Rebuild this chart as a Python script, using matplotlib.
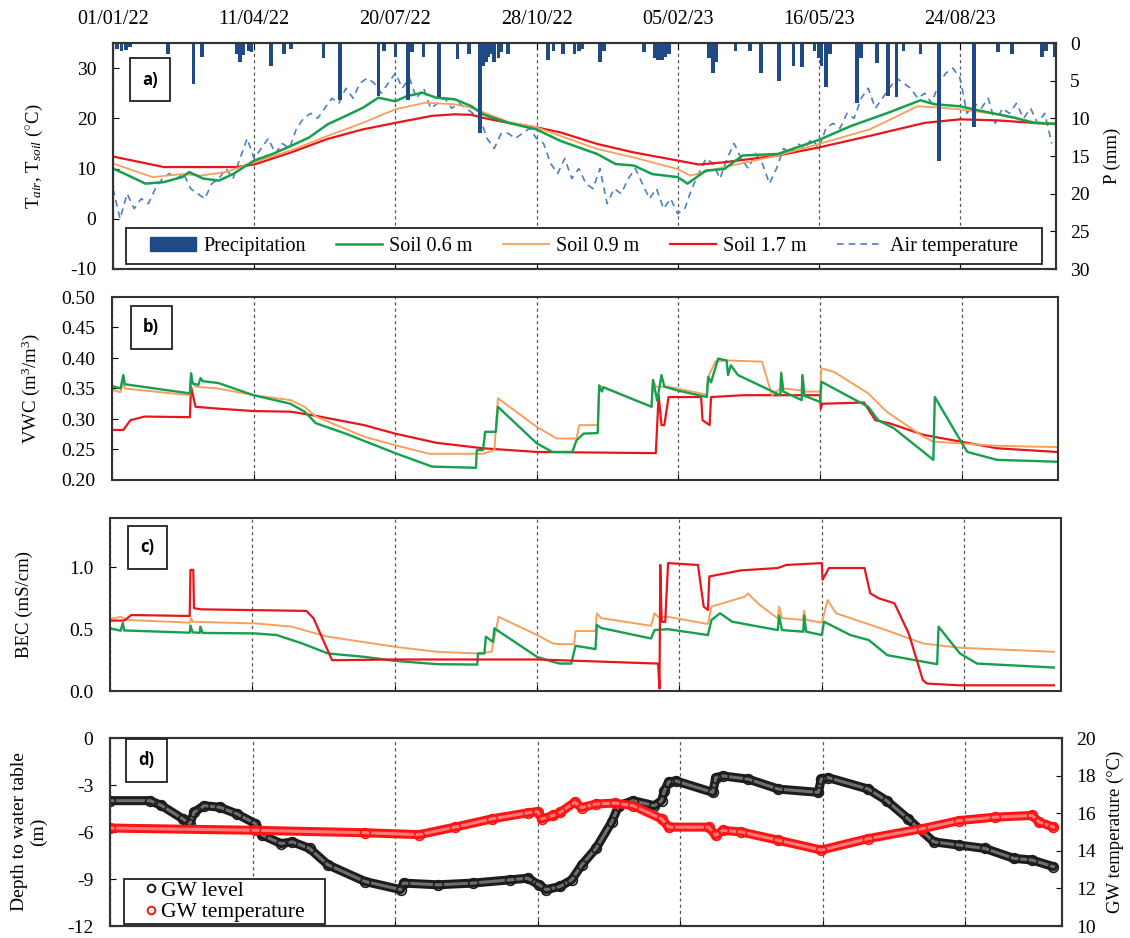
import numpy as np
import pandas as pd
import matplotlib
matplotlib.use('Agg')
import matplotlib.pyplot as plt
import matplotlib.transforms as mtransforms
from matplotlib.lines import Line2D
from matplotlib.patches import Patch, Rectangle

plt.rcParams['font.family'] = 'Liberation Serif'
plt.rcParams['mathtext.fontset'] = 'custom'
plt.rcParams['mathtext.rm'] = 'Liberation Serif'
plt.rcParams['mathtext.it'] = 'Liberation Serif:italic'
plt.rcParams['axes.unicode_minus'] = False

# dias contados a partir de 01/01/2022
start = pd.Timestamp('2022-01-01')
end_day = 668
red_line_day = 305
tick_days = [0, 100, 200, 300, 400, 500, 600]

# ---- a) temperatura do solo e do ar, precipitacao
t06_days = [0, 8, 23, 36, 49, 54, 64, 75, 85, 100, 113, 126, 139, 152, 165, 177, 188, 200, 208, 219,
            229, 242, 254, 262, 280, 300, 317, 330, 343, 356, 369, 382, 400, 407, 420, 433, 446, 471,
            500, 523, 549, 572, 582, 600, 613, 639, 652, 667]
t06 = [10.0, 9.0, 7.0, 7.3, 8.3, 9.3, 8.0, 7.6, 8.9, 11.6, 12.9, 14.5, 16.2, 18.8, 20.5, 22.1, 24.1,
       23.4, 24.4, 25.1, 24.1, 23.8, 22.4, 20.8, 19.1, 17.8, 15.5, 14.2, 12.9, 10.9, 10.6, 8.9, 8.3,
       7.0, 9.6, 9.9, 12.6, 12.9, 15.7, 18.5, 21.1, 23.6, 22.8, 22.4, 21.6, 20.1, 19.1, 18.9]
t09_days = [0, 28, 49, 62, 80, 100, 126, 152, 177, 200, 221, 242, 254, 280, 300, 317, 343, 369, 400,
            409, 433, 471, 500, 536, 570, 582, 600, 626, 652, 667]
t09 = [11.0, 8.3, 8.9, 8.6, 9.3, 11.25, 13.6, 16.5, 19.1, 21.8, 23.1, 22.8, 22.1, 19.3, 18.2, 16.5,
       13.9, 12.2, 9.9, 8.6, 10.3, 12.6, 14.9, 17.8, 22.4, 22.2, 21.8, 20.8, 19.3, 18.9]
t17_days = [0, 36, 87, 100, 126, 152, 177, 200, 226, 242, 254, 262, 280, 300, 317, 343, 369, 400,
            415, 433, 471, 500, 536, 575, 600, 626, 652, 667]
t17 = [12.4, 10.3, 10.3, 10.8, 13.2, 15.9, 17.8, 19.1, 20.5, 20.8, 20.7, 20.1, 19.1, 18.2, 17.2, 14.9,
       13.2, 11.6, 10.8, 11.25, 12.6, 14.2, 16.5, 19.1, 19.8, 19.6, 19.1, 18.9]
# temperatura do ar a cada 5 dias
t_air = [6, 0, 5, 2, 4, 3, 6, 8, 9, 8, 9, 6, 5, 4, 7, 8, 10, 8, 12, 16,
         12, 14, 16, 13, 15, 14, 18, 20, 21, 20, 22, 24, 23, 26, 24, 27, 28, 27, 25, 27,
         29, 26, 28, 24, 26, 22, 23, 24, 22, 23, 22, 21, 20, 16, 14, 17, 17, 16, 17, 18,
         16, 15, 11, 9, 12, 8, 10, 7, 6, 10, 3, 6, 5, 8, 10, 7, 4, 6, 2, 4,
         1, 2, 6, 9, 12, 11, 8, 12, 15, 12, 10, 13, 11, 7, 10, 14, 13, 15, 14, 16,
         14, 18, 19, 18, 21, 20, 24, 26, 22, 24, 26, 28, 27, 26, 24, 25, 23, 27, 29, 30,
         28, 21, 23, 22, 24, 19, 22, 21, 23, 20, 22, 19, 21, 15]
rain_days = [3, 6, 9, 12, 39, 57, 63, 88, 90, 92, 96, 98, 112, 121, 126, 149, 161, 188, 192, 200,
             209, 212, 220, 231, 244, 252, 260, 262, 264, 266, 268, 270, 273, 275, 280, 308, 312,
             319, 327, 330, 332, 345, 348, 376, 384, 386, 389, 391, 394, 422, 425, 427, 441, 451,
             459, 472, 482, 488, 497, 500, 502, 505, 508, 527, 530, 541, 549, 555, 560, 572, 585,
             610, 627, 637, 658, 661, 667]
rain_mm = [0.8, 1.0, 0.9, 0.5, 1.4, 5.4, 1.9, 1.5, 2.5, 1.6, 1.0, 1.2, 3.0, 1.4, 0.8, 2.0, 7.6, 7.0,
           1.0, 1.8, 7.6, 1.2, 1.8, 7.2, 2.1, 1.4, 12.0, 3.0, 2.5, 1.8, 1.5, 2.5, 2.0, 1.2, 1.4, 2.3,
           1.0, 1.4, 1.4, 1.0, 0.8, 2.5, 1.0, 1.2, 2.0, 2.3, 2.2, 1.8, 1.5, 2.0, 4.0, 2.5, 1.0, 1.0,
           4.0, 5.0, 3.0, 3.2, 1.0, 2.0, 3.0, 5.8, 1.5, 8.0, 2.0, 2.7, 7.0, 7.2, 1.0, 1.4, 15.6,
           11.2, 1.2, 1.4, 1.8, 1.0, 1.8]

# ---- b) VWC
vwc06_days = [0, 6, 8, 9, 55, 55.8, 57, 61, 62.5, 64, 75, 100, 126, 136, 144, 165, 200, 226, 257,
              257.6, 262, 263.5, 271, 272.5, 300, 311, 325, 328, 333, 343, 344, 346, 347, 381, 382,
              385, 388, 390, 399, 420, 421, 423, 428, 434, 435, 437, 442, 472, 472.5, 474, 487,
              487.5, 489, 500, 501, 521, 534, 541, 552, 580, 581, 599, 604, 625, 667]
vwc06 = [0.354, 0.350, 0.372, 0.357, 0.342, 0.375, 0.358, 0.356, 0.367, 0.362, 0.359, 0.339, 0.325,
         0.312, 0.293, 0.276, 0.244, 0.222, 0.220, 0.249, 0.249, 0.279, 0.279, 0.320, 0.260, 0.246,
         0.246, 0.265, 0.276, 0.277, 0.355, 0.345, 0.352, 0.320, 0.364, 0.330, 0.372, 0.353, 0.347,
         0.336, 0.369, 0.360, 0.399, 0.396, 0.372, 0.388, 0.372, 0.339, 0.375, 0.345, 0.331, 0.372,
         0.338, 0.328, 0.361, 0.336, 0.320, 0.298, 0.285, 0.233, 0.336, 0.265, 0.246, 0.233, 0.230]
vwc09_days = [0, 6, 8, 9, 55, 55.8, 59, 75, 100, 126, 136, 144, 178, 200, 224, 262, 270, 272.5,
              300, 314, 328, 330, 343, 344, 381, 382, 384, 393, 420, 421, 426, 434, 459, 466, 472,
              472.5, 474, 487, 487.5, 489, 500, 501, 510, 534, 547, 573, 580, 599, 625, 667]
vwc09 = [0.348, 0.344, 0.361, 0.350, 0.339, 0.364, 0.353, 0.350, 0.339, 0.331, 0.320, 0.304, 0.271,
         0.257, 0.243, 0.243, 0.249, 0.334, 0.287, 0.268, 0.268, 0.290, 0.290, 0.355, 0.320, 0.364,
         0.353, 0.353, 0.340, 0.369, 0.394, 0.396, 0.394, 0.339, 0.350, 0.377, 0.350, 0.347, 0.372,
         0.345, 0.345, 0.383, 0.377, 0.342, 0.312, 0.271, 0.263, 0.260, 0.256, 0.254]
vwc17_days = [0, 8, 13, 23, 55, 55.8, 59, 75, 100, 126, 142, 178, 200, 229, 262, 300, 384, 386, 388,
              390, 393, 416, 417, 422, 423, 446, 500, 500.5, 501.5, 531, 539, 549, 573, 599, 625, 667]
vwc17 = [0.282, 0.282, 0.298, 0.304, 0.303, 0.353, 0.320, 0.317, 0.313, 0.312, 0.306, 0.290, 0.276,
         0.261, 0.252, 0.246, 0.244, 0.339, 0.290, 0.290, 0.336, 0.336, 0.298, 0.290, 0.336, 0.339,
         0.339, 0.317, 0.325, 0.327, 0.298, 0.293, 0.274, 0.263, 0.252, 0.246]

# ---- c) BEC
bec06_days = [0, 7.5, 9, 10, 56, 56.5, 58, 63, 63.5, 65, 102, 117, 135, 153, 179, 200, 230, 258,
              258.5, 263, 264, 269, 270, 300, 311, 316, 324, 327, 341, 342, 345, 380, 382.5, 392,
              420, 422.5, 428.5, 437, 469, 470, 472, 487, 487.5, 489, 500, 501.5, 520, 533, 546,
              581, 582, 597, 609, 663]
bec06 = [0.507, 0.488, 0.55, 0.49, 0.472, 0.53, 0.475, 0.47, 0.52, 0.47, 0.466, 0.453, 0.385, 0.304,
         0.276, 0.244, 0.217, 0.214, 0.304, 0.304, 0.439, 0.398, 0.507, 0.276, 0.236, 0.222, 0.222,
         0.366, 0.339, 0.534, 0.51, 0.425, 0.493, 0.50, 0.453, 0.575, 0.629, 0.561, 0.493, 0.61,
         0.493, 0.48, 0.61, 0.48, 0.453, 0.561, 0.453, 0.412, 0.29, 0.217, 0.52, 0.304, 0.222, 0.19]
bec09_days = [0, 7.5, 12, 56, 57, 58, 102, 128, 140, 153, 200, 230, 258, 268, 273, 300, 311, 316,
              326, 327, 341, 342, 345, 380, 382.5, 385, 392, 420, 422.5, 446, 448, 456, 469, 470,
              472, 487, 487.5, 489, 500, 504, 510, 545, 571, 597, 663]
bec09 = [0.583, 0.60, 0.575, 0.553, 0.588, 0.56, 0.547, 0.52, 0.48, 0.44, 0.358, 0.317, 0.304,
         0.317, 0.60, 0.453, 0.385, 0.379, 0.379, 0.485, 0.485, 0.629, 0.59, 0.528, 0.629, 0.60,
         0.60, 0.542, 0.683, 0.764, 0.79, 0.70, 0.588, 0.683, 0.59, 0.575, 0.65, 0.575, 0.553,
         0.737, 0.629, 0.493, 0.385, 0.350, 0.317]
bec17_days = [0, 10, 15, 56, 56.5, 58.5, 59, 64, 138, 143, 156, 200, 300, 316, 385, 386, 386.5,
              387.5, 390, 392, 413, 417, 420, 421, 443, 469, 475, 500, 500.5, 505, 530, 534, 540,
              551, 561, 571, 574, 597, 663]
bec17 = [0.57, 0.57, 0.615, 0.607, 0.98, 0.98, 0.67, 0.661, 0.648, 0.588, 0.249, 0.255, 0.255,
         0.249, 0.222, 0.02, 1.02, 0.56, 0.56, 1.035, 1.02, 0.683, 0.656, 0.927, 0.976, 0.995,
         1.02, 1.035, 0.90, 0.995, 0.995, 0.791, 0.75, 0.71, 0.466, 0.087, 0.06, 0.046, 0.046]

# ---- d) agua subterranea
gw_days = [0, 28, 36, 51, 56, 59, 66, 77, 89, 102, 107, 120, 128, 140, 153, 179, 204, 206, 230,
           255, 281, 293, 301, 306, 316, 324, 331, 341, 352, 357, 367, 382, 387, 389, 392, 397,
           423, 425, 430, 448, 469, 497, 499, 504, 532, 545, 560, 578, 596, 614, 634, 647, 662]
gw_level = [-4.0, -4.0, -4.3, -5.16, -5.47, -4.74, -4.32, -4.42, -4.84, -5.47, -6.2, -6.74, -6.63,
            -7.05, -8.1, -9.16, -9.68, -9.26, -9.37, -9.26, -9.05, -8.95, -9.37, -9.68, -9.47,
            -9.05, -8.1, -7.05, -5.37, -4.32, -4.0, -4.32, -4.0, -3.37, -2.8, -2.74, -3.47, -2.53,
            -2.42, -2.63, -3.26, -3.47, -2.63, -2.53, -3.26, -4.0, -5.16, -6.63, -6.84, -7.05,
            -7.68, -7.79, -8.21]
gwt_days = [0, 102, 179, 217, 242, 268, 293, 300, 303, 311, 316, 326, 331, 341, 354, 367, 387, 392,
            420, 425, 430, 443, 469, 499, 532, 570, 596, 621, 647, 652, 662]
gw_temp = [15.21, 15.09, 14.96, 14.86, 15.26, 15.7, 16.02, 16.09, 15.7, 15.88, 16.05, 16.58, 16.3,
           16.49, 16.54, 16.4, 15.7, 15.26, 15.26, 14.82, 15.09, 15.0, 14.56, 14.04, 14.65, 15.18,
           15.61, 15.79, 15.88, 15.53, 15.26]

C_GREEN = '#16a04e'
C_ORANGE = '#f6a05c'
C_RED = '#e8161b'
C_AIR = '#4f7fc2'
C_NAVY = '#1f4a85'
C_GWL = '#1c1c1c'
C_GWT = '#ff1414'
TICK_FS = 14
LAB_FS = 13.5


def dates(days):
    return (start + pd.to_timedelta(np.asarray(days, dtype=float), unit='D')).to_numpy()


W, H = 1130, 938
fig = plt.figure(figsize=(W / 100, H / 100), dpi=100)


def add_ax(left, top, right, bottom):
    return fig.add_axes([left / W, 1 - bottom / H, (right - left) / W, (bottom - top) / H])


def style_spines(ax):
    for s in ax.spines.values():
        s.set_linewidth(1.5)
        s.set_color('#333333')


ax_a = add_ax(113, 43, 1056, 269)
ax_b = add_ax(112, 297, 1058, 480)
ax_c = add_ax(110, 518, 1061, 691)
ax_d = add_ax(110, 738, 1062, 926)

xt = dates(tick_days)
for ax in (ax_a, ax_b, ax_c, ax_d):
    ax.set_xlim(dates([0])[0], dates([end_day])[0])
    ax.set_xticks(xt)
    ax.grid(axis='x', color='#555555', linestyle=(0, (2.5, 2.5)), linewidth=0.9)
    ax.tick_params(axis='both', direction='in', labelsize=TICK_FS, length=4)
    ax.tick_params(axis='y', pad=12)
    ax.tick_params(axis='x', labelbottom=False)
    style_spines(ax)

ax_a.tick_params(axis='x', top=True, labeltop=True, pad=10)
ax_a.set_xticklabels([pd.Timestamp(t).strftime('%d/%m/%y') for t in xt], fontsize=14.5)

# a)
ax_a.plot(dates(np.arange(len(t_air)) * 5), t_air, color=C_AIR, lw=1.2, ls=(0, (4, 3)))
ax_a.plot(dates(t17_days), t17, color=C_RED, lw=1.6)
ax_a.plot(dates(t09_days), t09, color=C_ORANGE, lw=1.3)
ax_a.plot(dates(t06_days), t06, color=C_GREEN, lw=1.8)
ax_a.set_ylim(-10, 35)
ax_a.set_yticks([-10, 0, 10, 20, 30])
ax_a.set_ylabel('T$_{air}$, T$_{soil}$ ($^{\\circ}$C)', fontsize=LAB_FS, labelpad=18)

ax_p = ax_a.twinx()
ax_p.bar(dates(rain_days), rain_mm, width=2.6, color=C_NAVY)
ax_p.set_ylim(30, 0)
ax_p.set_yticks(range(0, 31, 5))
ax_p.tick_params(axis='y', direction='in', labelsize=TICK_FS, length=4, pad=10)
ax_p.set_ylabel('P (mm)', fontsize=LAB_FS, labelpad=10)
style_spines(ax_p)

# caixa da legenda (moldura desenhada a parte)
ax_p.add_patch(Rectangle((0.0143, 0.022), 0.971, 0.159, transform=ax_p.transAxes,
                         facecolor='white', edgecolor='#222222', lw=1.3, zorder=4))
handles = [Patch(facecolor=C_NAVY, edgecolor=C_NAVY),
           Line2D([], [], color=C_GREEN, lw=1.8),
           Line2D([], [], color=C_ORANGE, lw=1.3),
           Line2D([], [], color=C_RED, lw=1.6),
           Line2D([], [], color=C_AIR, lw=1.2, ls=(0, (4, 3)))]
labels = ['Precipitation', 'Soil 0.6 m', 'Soil 0.9 m', 'Soil 1.7 m', 'Air temperature']
leg = ax_p.legend(handles, labels, ncol=5, loc='center', bbox_to_anchor=(0.4995, 0.1015),
                  borderaxespad=0, fontsize=14.5, handlelength=2.3, frameon=False,
                  borderpad=0, handletextpad=0.35, columnspacing=1.5)
leg.set_zorder(5)

# b)
ax_b.plot(dates(vwc17_days), vwc17, color=C_RED, lw=1.6)
ax_b.plot(dates(vwc09_days), vwc09, color=C_ORANGE, lw=1.4)
ax_b.plot(dates(vwc06_days), vwc06, color=C_GREEN, lw=1.7)
ax_b.set_ylim(0.20, 0.50)
ax_b.set_yticks(np.arange(0.20, 0.501, 0.05))
ax_b.yaxis.set_major_formatter(matplotlib.ticker.FormatStrFormatter('%.2f'))
ax_b.set_ylabel('VWC (m$^3$/m$^3$)', fontsize=LAB_FS, labelpad=14)

# c)
ax_c.plot(dates(bec09_days), bec09, color=C_ORANGE, lw=1.4)
ax_c.plot(dates(bec06_days), bec06, color=C_GREEN, lw=1.7)
ax_c.plot(dates(bec17_days), bec17, color=C_RED, lw=1.6)
ax_c.set_ylim(0, 1.4)
ax_c.set_yticks([0.0, 0.5, 1.0])
ax_c.yaxis.set_major_formatter(matplotlib.ticker.FormatStrFormatter('%.1f'))
ax_c.set_ylabel('BEC (mS/cm)', fontsize=LAB_FS, labelpad=26)

# d)  faixa espessa + circulos abertos
x_gw = dates(gw_days)
ax_d.plot(x_gw, gw_level, color=C_GWL, lw=6.5, solid_capstyle='round')
ax_d.plot(x_gw, gw_level, color='#6e6e6e', lw=2.2)
ax_d.plot(x_gw, gw_level, ls='none', marker='o', ms=7, mfc='none', mec=C_GWL, mew=1.2)
ax_d.set_ylim(-12, 0)
ax_d.set_yticks(range(-12, 1, 3))
ax_d.set_ylabel('Depth to water table\n(m)', fontsize=LAB_FS + 0.5, labelpad=14)

ax_t = ax_d.twinx()
x_gt = dates(gwt_days)
ax_t.plot(x_gt, gw_temp, color=C_GWT, lw=6.5, solid_capstyle='round')
ax_t.plot(x_gt, gw_temp, color='#ff7a7a', lw=2.2)
ax_t.plot(x_gt, gw_temp, ls='none', marker='o', ms=7, mfc='none', mec=C_GWT, mew=1.2)
ax_t.set_ylim(10, 20)
ax_t.set_yticks(range(10, 21, 2))
ax_t.tick_params(axis='y', direction='in', labelsize=TICK_FS, length=4, pad=10)
ax_t.set_ylabel('GW temperature (°C)', fontsize=LAB_FS, labelpad=8)
style_spines(ax_t)

ax_t.add_patch(Rectangle((0.015, 0.01), 0.211, 0.24, transform=ax_t.transAxes,
                         facecolor='white', edgecolor='#222222', lw=1.3, zorder=4))
gw_handles = [Line2D([], [], ls='none', marker='o', ms=5.5, mfc='none', mec=C_GWL, mew=1.4),
              Line2D([], [], ls='none', marker='o', ms=5.5, mfc='none', mec=C_GWT, mew=1.4)]
leg_d = ax_t.legend(gw_handles, ['GW level', 'GW temperature'], loc='center left',
                    bbox_to_anchor=(0.037, 0.13), borderaxespad=0, fontsize=15.5,
                    handlelength=0.5, handletextpad=0.25, frameon=False,
                    borderpad=0, labelspacing=0.05)
leg_d.set_zorder(5)

# caixas de rotulo
for lab, cx, cy in [('a)', 150, 80), ('b)', 151, 327), ('c)', 147, 547), ('d)', 146, 760)]:
    fig.text(cx / W, 1 - cy / H, lab, ha='center', va='center', fontsize=12,
             fontweight='bold', family='Open Sans',
             bbox=dict(boxstyle='square,pad=0.75', facecolor='white', edgecolor='#222222', lw=1.3))

# linha vertical vermelha atravessando os paineis
trans = mtransforms.blended_transform_factory(ax_a.transData, fig.transFigure)
rx = dates([red_line_day])[0]
fig.add_artist(Line2D([rx, rx], [0, 1 - 43 / H], transform=trans, color='#e8161b', lw=1.4))

fig.savefig('out.png', dpi=100)
